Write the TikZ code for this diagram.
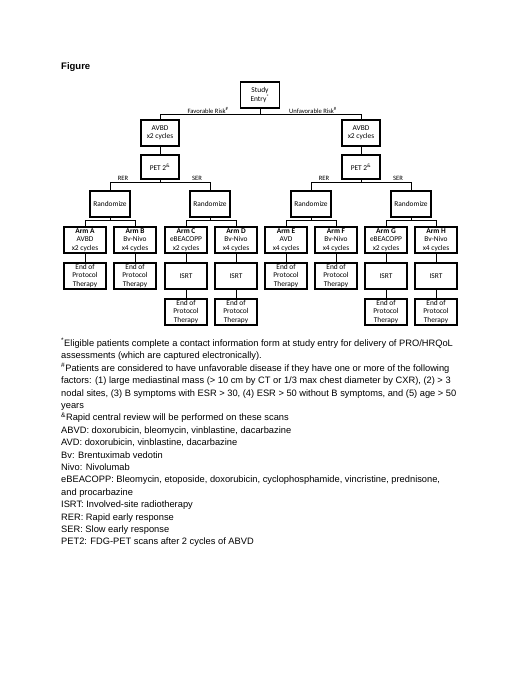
\documentclass[tikz,border=0pt]{standalone}
\usepackage{fontspec}
\setmainfont{Liberation Sans}
\newfontfamily\calib{Carlito}
\usetikzlibrary{positioning}

\begin{document}
\begin{tikzpicture}[x=1pt, y=-1pt,
        box/.style={draw, line width=1.1pt, minimum width=42pt, minimum height=26pt, inner sep=0.5pt, align=center, font=\calib\fontsize{7.4}{8.2}\selectfont},
        lbl/.style={inner sep=0pt, font=\calib\fontsize{6.6}{7.5}\selectfont}]
        \useasboundingbox (0,0) rectangle (520,673);

        \node[anchor=west, inner sep=0pt, font=\bfseries\fontsize{9.5}{11}\selectfont] (title) at (61,67) {Figure};

        \node[box, minimum width=39pt] (entry) at (260,95) {Study\\Entry\textsuperscript{*}};
        \node[box, minimum width=38pt] (avbdF) at (160,133) {AVBD\\x2 cycles};
        \node[box, minimum width=38pt] (avbdU) at (361,133) {AVBD\\x2 cycles};
        \node[box, minimum width=38pt, minimum height=24pt] (petF) at (160,167) {PET 2\textsuperscript{\&}};
        \node[box, minimum width=38pt, minimum height=24pt] (petU) at (361,167) {PET 2\textsuperscript{\&}};

        \node[box, minimum width=40pt] (randA) at (110,204) {Randomize};
        \node[box, minimum width=40pt] (randC) at (210,204) {Randomize};
        \node[box, minimum width=40pt] (randE) at (311,204) {Randomize};
        \node[box, minimum width=40pt] (randG) at (411,204) {Randomize};

        \node[box] (armA) at (85,240) {\textbf{Arm A}\\AVBD\\x2 cycles};
        \node[box] (armB) at (135,240) {\textbf{Arm B}\\Bv-Nivo\\x4 cycles};
        \node[box] (armC) at (186,240) {\textbf{Arm C}\\eBEACOPP\\x2 cycles};
        \node[box] (armD) at (236,240) {\textbf{Arm D}\\Bv-Nivo\\x4 cycles};
        \node[box] (armE) at (286,240) {\textbf{Arm E}\\AVD\\x4 cycles};
        \node[box] (armF) at (336,240) {\textbf{Arm F}\\Bv-Nivo\\x4 cycles};
        \node[box] (armG) at (386,240) {\textbf{Arm G}\\eBEACOPP\\x2 cycles};
        \node[box] (armH) at (436,240) {\textbf{Arm H}\\Bv-Nivo\\x4 cycles};

        \node[box] (endA) at (85,276) {End of\\Protocol\\Therapy};
        \node[box] (endB) at (135,276) {End of\\Protocol\\Therapy};
        \node[box] (isrtC) at (186,276) {ISRT};
        \node[box] (isrtD) at (236,276) {ISRT};
        \node[box] (endE) at (286,276) {End of\\Protocol\\Therapy};
        \node[box] (endF) at (336,276) {End of\\Protocol\\Therapy};
        \node[box] (isrtG) at (386,276) {ISRT};
        \node[box] (isrtH) at (436,276) {ISRT};

        \node[box] (endC) at (186,312) {End of\\Protocol\\Therapy};
        \node[box] (endD) at (236,312) {End of\\Protocol\\Therapy};
        \node[box] (endG) at (386,312) {End of\\Protocol\\Therapy};
        \node[box] (endH) at (436,312) {End of\\Protocol\\Therapy};

        % branch labels
        \node[lbl] (fav) at (208,110) {Favorable Risk\textsuperscript{\#}};
        \node[lbl] (unfav) at (313,110) {Unfavorable Risk\textsuperscript{\#}};
        \node[lbl] (rerF) at (123,178.5) {RER};
        \node[lbl] (serF) at (197,178.5) {SER};
        \node[lbl] (rerU) at (324,178.5) {RER};
        \node[lbl] (serU) at (398,178.5) {SER};

        \draw (entry.south) -- ++(0,6) -| (avbdF.north)
            (entry.south) -- ++(0,6) -| (avbdU.north);
        \draw (avbdF) to (petF)
            (avbdU) to (petU);
        \draw (petF.south) -- ++(0,3) -| (randA.north)
            (petF.south) -- ++(0,3) -| (randC.north)
            (petU.south) -- ++(0,3) -| (randE.north)
            (petU.south) -- ++(0,3) -| (randG.north);
        \draw (randA.south) -- ++(0,3) -| (armA.north)
            (randA.south) -- ++(0,3) -| (armB.north)
            (randC.south) -- ++(0,3) -| (armC.north)
            (randC.south) -- ++(0,3) -| (armD.north)
            (randE.south) -- ++(0,3) -| (armE.north)
            (randE.south) -- ++(0,3) -| (armF.north)
            (randG.south) -- ++(0,3) -| (armG.north)
            (randG.south) -- ++(0,3) -| (armH.north);
        \draw (armA) to (endA)
            (armB) to (endB)
            (armC) to (isrtC)
            (armD) to (isrtD)
            (armE) to (endE)
            (armF) to (endF)
            (armG) to (isrtG)
            (armH) to (isrtH)
            (isrtC) to (endC)
            (isrtD) to (endD)
            (isrtG) to (endG)
            (isrtH) to (endH);

        % footnotes
        \node[anchor=north west, align=left, inner sep=0pt, font=\fontsize{9.3}{12.4}\selectfont] (notes) at (61,338) {%
            \textsuperscript{*}Eligible patients complete a contact information form at study entry for delivery of PRO/HRQoL\\
            assessments (which are captured electronically).\\
            \textsuperscript{\#}Patients are considered to have unfavorable disease if they have one or more of the following\\
            factors: (1) large mediastinal mass (> 10 cm by CT or 1/3 max chest diameter by CXR), (2) > 3\\
            nodal sites, (3) B symptoms with ESR > 30, (4) ESR > 50 without B symptoms, and (5) age > 50\\
            years\\
            \textsuperscript{\&}Rapid central review will be performed on these scans\\
            ABVD: doxorubicin, bleomycin, vinblastine, dacarbazine\\
            AVD: doxorubicin, vinblastine, dacarbazine\\
            Bv: Brentuximab vedotin\\
            Nivo: Nivolumab\\
            eBEACOPP: Bleomycin, etoposide, doxorubicin, cyclophosphamide, vincristine, prednisone,\\
            and procarbazine\\
            ISRT: Involved-site radiotherapy\\
            RER: Rapid early response\\
            SER: Slow early response\\
            PET2: FDG-PET scans after 2 cycles of ABVD};
\end{tikzpicture}
\end{document}
